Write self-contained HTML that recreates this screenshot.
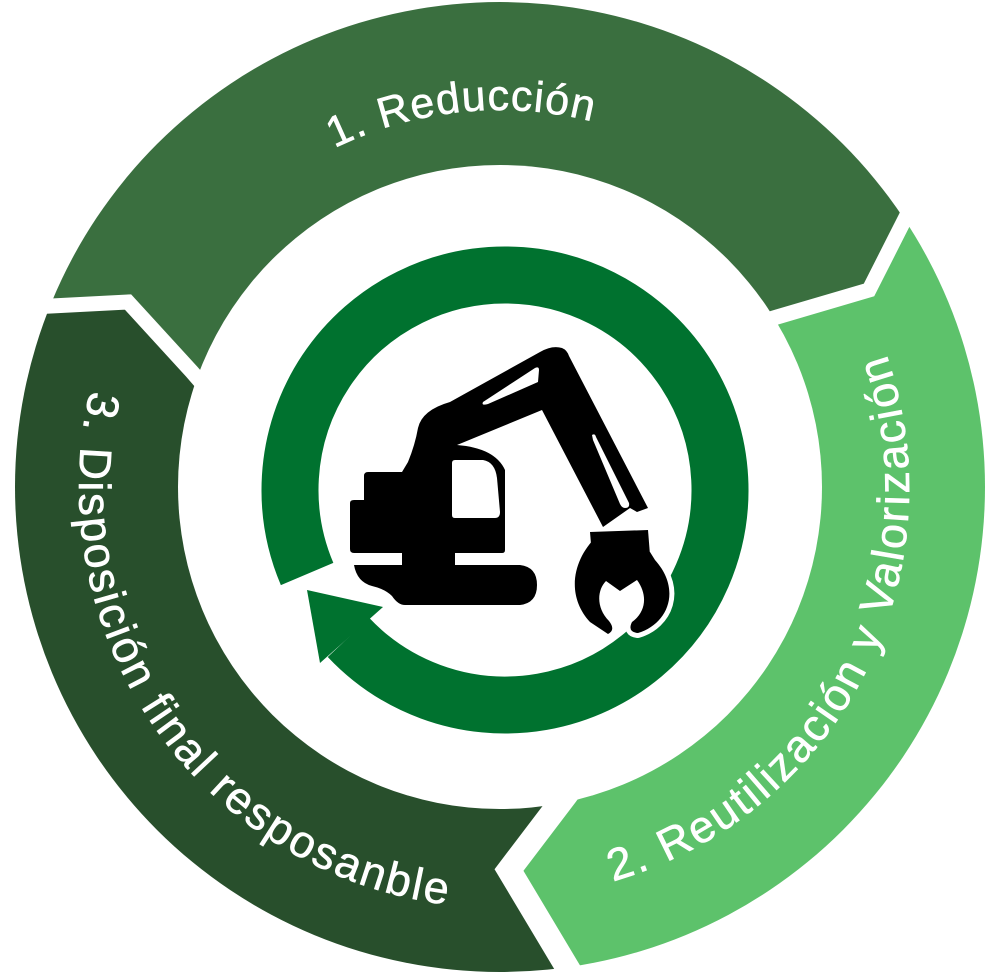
<!DOCTYPE html>
<html><head><meta charset="utf-8"><style>html,body{margin:0;padding:0;background:#fff;overflow:hidden;width:1000px;height:973px}svg{display:block}</style></head>
<body>
<svg width="1000" height="973" viewBox="0 0 1000 973" xmlns="http://www.w3.org/2000/svg">
<defs>
<mask id="ann">
<rect width="1000" height="973" fill="#000"/>
<circle cx="500" cy="487" r="485" fill="#fff"/>
<circle cx="500" cy="487" r="322" fill="#000"/>
</mask>
<path id="pTop" d="M187.5,276.2 A377,377 0 0 1 761.9,215.8" fill="none"/>
<path id="pLeft" d="M104.4,343 A421,421 0 0 0 536.7,906.4" fill="none"/>
<path id="pRight" d="M536.6,895.4 A408,408 0 0 0 834,253" fill="none"/>
</defs>
<g mask="url(#ann)">
<polygon fill="#3A6F3F" points="192,372 128,302 -100,314 -100,-100 1100,-100 960,110 910,209 869,290 777,317 500,487"/>
<polygon fill="#5DC26B" points="777,317 869,290 910,209 960,110 1100,-100 1100,1100 600,1022 567,967 509,870 566,795 500,487"/>
<polygon fill="#284F2C" points="566,795 509,870 567,967 600,1022 -100,1100 -100,314 128,302 192,372 500,487"/>
<g fill="none" stroke="#fff" stroke-linejoin="miter" stroke-miterlimit="10">
<polyline stroke-width="15" points="-60,310 32,307 128,302 192,372 260,450"/>
<polyline stroke-width="15" points="960,110 910,209 869,290 777,317 700,340"/>
<polyline stroke-width="24" points="600,1022 567,967 509,870 566,795 620,720"/>
</g>
</g>
<g font-family="'Liberation Sans', sans-serif" fill="#fff" stroke="#fff" stroke-width="0.6">
<text font-size="43"><textPath href="#pTop" startOffset="329" text-anchor="middle" textLength="264" lengthAdjust="spacing">1. Reducción</textPath></text>
<text font-size="45"><textPath href="#pLeft" startOffset="402" text-anchor="middle" textLength="705" lengthAdjust="spacing">3. Disposición final resposanble</textPath></text>
<text font-size="45"><textPath href="#pRight" startOffset="410" text-anchor="middle" textLength="665" lengthAdjust="spacing">2. Reutilización y Valorización</textPath></text>
</g>
<!-- inner recycle ring -->
<path d="M307.1,574 A215,215 0 1 1 348.5,637.4" fill="none" stroke="#00722F" stroke-width="57"/>
<polygon fill="#00722F" points="307,590 383,607 320,663"/>
<!-- excavator -->
<g fill="#000" stroke="#fff" stroke-width="10" stroke-linejoin="round" paint-order="stroke">
<path d="M597,536 C572,560 566,596 590,622 L608,634 Q616,630 609,621 C596,608 597,590 606,581 L620,591 L637,580 C648,595 646,612 632,622 Q627,632 638,633 C668,624 682,590 655,560 L650,552 Z"/>
</g>
<g fill="#000">
<path d="M590,532 L648,530 L650,555 L592,556 Z"/>
<path d="M350,503 Q350,500 354,500 L364,500 L364,476 Q364,472 368,472 L402,472 L408,462 Q415,445 418,428 Q422,410 450,402 L540,352 Q552,345 562,348 Q567,350 569,356 L648,508 L637,512 L630,508 L603,527 L542,410 L457,445 Q495,448 505,470 L505,550 Q505,553 502,553 L354,553 Q350,553 350,549 Z"/>
<path d="M354,565 L402,565 L402,553 L455,553 L455,565 L520,565 Q537,567 537,585 Q537,603 520,605 L405,605 Q398,605 392,596 Q385,589 372,586 Q357,582 354,565 Z"/>
</g>
<g fill="#fff">
<path d="M452,463 Q452,460 455,460 L483,460 Q495,462 497,478 L500,512 Q500,518 495,518 L455,518 Q452,518 452,515 Z"/>
<path d="M483,402 L535,368 Q539,366 539,370 L538,382 L488,404 Q481,406 483,402 Z"/>
<path d="M592,435 Q595,433 596,437 L629,503 Q630,508 625,508 Q622,508 620,504 L593,440 Z"/>
</g>
</svg>
</body></html>
